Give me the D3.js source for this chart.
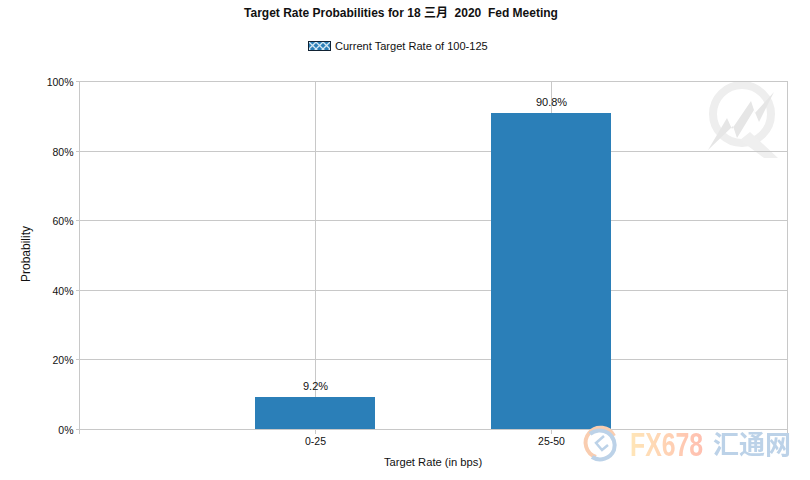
<!DOCTYPE html>
<html lang="en">
<head>
<meta charset="UTF-8" />
<title>Target Rate Probabilities</title>
<script src="https://d3js.org/d3.v7.min.js"></script>
<style>
  html, body { margin: 0; padding: 0; background: #fff; }
  svg { display: block; }
  text { font-family: "Liberation Sans", "Noto Sans CJK SC", sans-serif; fill: #111; white-space: pre; }
  .grid line { stroke: #c8c8c8; stroke-width: 1; shape-rendering: crispEdges; }
  .bar { shape-rendering: crispEdges; }
</style>
</head>
<body>
<div id="chart"></div>
<script>
const categories = ["", "0-25", "25-50", " "];
const barCategories = ["0-25", "25-50"];
const probabilities = [9.2, 90.8];
const yTicks = [0, 20, 40, 60, 80, 100];

const width = 810, height = 480;
const plot = { left: 79.5, right: 787.5, top: 81.5, bottom: 429 };
const barWidth = 120;
const barColor = "#2b7fb8";

const svg = d3.select("#chart").append("svg")
  .attr("width", width)
  .attr("height", height);

const x = d3.scalePoint().domain(categories).range([plot.left, plot.right]);
const y = d3.scaleLinear().domain([0, 100]).range([plot.bottom, plot.top]);

const defs = svg.append("defs");
defs.append("filter").attr("id", "soft")
  .append("feGaussianBlur").attr("stdDeviation", 0.7);

const wmGrad = defs.append("linearGradient").attr("id", "fxGrad");
wmGrad.append("stop").attr("offset", "0%").attr("stop-color", "#ffe6b8");
wmGrad.append("stop").attr("offset", "100%").attr("stop-color", "#ffbfb0");

// watermark behind the plot
const mark = svg.append("g").attr("transform", "translate(742,114)").attr("filter", "url(#soft)");
mark.append("circle").attr("r", 29).attr("fill", "none").attr("stroke", "#eeeeee").attr("stroke-width", 8);
mark.append("path")
  .attr("d", "M8,18 L36,44 L22,44 L-2,26 Z")
  .attr("fill", "#efefef");
mark.append("path")
  .attr("d", "M-34,36 L-15,4 L-10,15 L9,-13 L13,-1 L32,-22 L17,8 L12,-4 L-5,24 L-9,12 Z")
  .attr("fill", "#e6e6e6");

// grid
const grid = svg.append("g").attr("class", "grid");
grid.selectAll(".h").data(yTicks).enter().append("line")
  .attr("x1", plot.left - 4)
  .attr("x2", plot.right)
  .attr("y1", d => y(d))
  .attr("y2", d => y(d));
grid.selectAll(".v").data(categories).enter().append("line")
  .attr("x1", d => x(d))
  .attr("x2", d => x(d))
  .attr("y1", plot.top)
  .attr("y2", d => y(0) + 5);

// bars
svg.selectAll(".bar").data(barCategories).enter().append("rect")
  .attr("class", "bar")
  .attr("x", d => x(d) - 0.5 - barWidth / 2)
  .attr("width", barWidth)
  .attr("y", (d, i) => y(probabilities[i]))
  .attr("height", (d, i) => y(0) - y(probabilities[i]))
  .attr("fill", barColor);

// value labels
svg.selectAll(".val").data(barCategories).enter().append("text")
  .attr("x", d => x(d))
  .attr("y", (d, i) => y(probabilities[i]) - 7.5)
  .attr("text-anchor", "middle")
  .attr("font-size", 11)
  .text((d, i) => probabilities[i] + "%");

// tick labels
svg.selectAll(".yl").data(yTicks).enter().append("text")
  .attr("x", plot.left - 6)
  .attr("y", d => y(d) + 4.5)
  .attr("text-anchor", "end")
  .attr("font-size", 10.5)
  .text(d => d + "%");
svg.selectAll(".xl").data(barCategories).enter().append("text")
  .attr("x", d => x(d))
  .attr("y", y(0) + 16)
  .attr("text-anchor", "middle")
  .attr("font-size", 10.5)
  .text(d => d);

// titles
svg.append("text")
  .attr("x", 401).attr("y", 17)
  .attr("text-anchor", "middle")
  .attr("font-size", 12)
  .attr("font-weight", 700)
  .text("Target Rate Probabilities for 18 三月  2020  Fed Meeting");
svg.append("text")
  .attr("x", 433).attr("y", 466)
  .attr("text-anchor", "middle")
  .attr("font-size", 11.2)
  .text("Target Rate (in bps)");
svg.append("text")
  .attr("transform", "translate(30,254) rotate(-90)")
  .attr("text-anchor", "middle")
  .attr("font-size", 12)
  .text("Probability");

// legend with hatched swatch
const hatch = defs.append("pattern")
  .attr("id", "hatch")
  .attr("width", 7).attr("height", 7)
  .attr("patternUnits", "userSpaceOnUse")
  .attr("patternTransform", "translate(309,42)");
hatch.append("rect").attr("width", 7).attr("height", 7).attr("fill", barColor);
hatch.append("path").attr("d", "M0,0 L7,7 M7,0 L0,7").attr("stroke", "#d5e8f3").attr("stroke-width", 1.3);
svg.append("rect")
  .attr("x", 308.5).attr("y", 41.5)
  .attr("width", 22).attr("height", 9)
  .attr("fill", "url(#hatch)")
  .attr("stroke", "#123");
svg.append("text")
  .attr("x", 335).attr("y", 50)
  .attr("font-size", 11.05)
  .text("Current Target Rate of 100-125");

// FX678 watermark
const wm = svg.append("g").attr("filter", "url(#soft)");
wm.append("path").attr("d", "M614,436 A15,15 0 1 0 596,457")
  .attr("fill", "none").attr("stroke", "#f9cdb0").attr("stroke-width", 4);
wm.append("path").attr("d", "M590,434 A15,15 0 0 1 614,450 A15,15 0 0 1 592,457")
  .attr("fill", "none").attr("stroke", "#bcd2e8").attr("stroke-width", 4);
wm.append("path").attr("d", "M604,436 L596,443 L602,450 L608,445")
  .attr("fill", "none").attr("stroke", "#bcd2e8").attr("stroke-width", 2.5);
wm.append("text")
  .attr("transform", "translate(630,456) scale(0.73,1)")
  .attr("font-size", 34).attr("font-weight", 700)
  .style("fill", "url(#fxGrad)")
  .text("FX678");
wm.append("text").attr("x", 713).attr("y", 454)
  .attr("font-size", 26).attr("font-weight", 700)
  .style("font-family", "'Noto Sans CJK SC'")
  .style("fill", "#bcd2e8")
  .text("汇通网");
</script>
</body>
</html>
